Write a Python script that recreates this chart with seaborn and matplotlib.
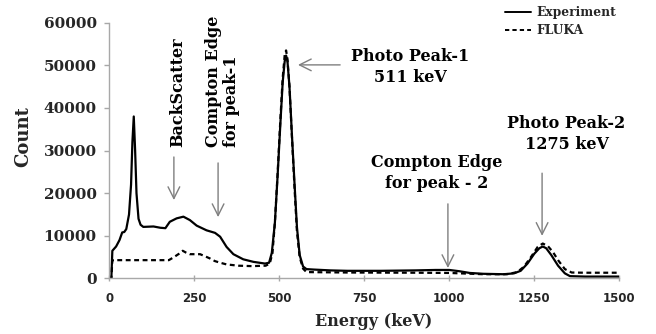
import numpy as np
import pandas as pd
import matplotlib
matplotlib.use("Agg")
import matplotlib.pyplot as plt
import seaborn as sns

# Measured gamma spectrum (energy in keV, counts)
exp_energy = [0, 6, 9, 20, 30, 38, 44, 50, 58, 64, 68, 72, 76, 80, 86, 92, 100,
              130, 150, 165, 178, 198, 218, 237, 257, 286, 311, 326, 345, 365,
              394, 424, 458, 470, 478, 487, 495, 503, 510, 516, 520, 524, 530,
              537, 545, 552, 560, 570, 580, 600, 650, 700, 800, 900, 960, 1000,
              1030, 1060, 1100, 1160, 1190, 1210, 1230, 1250, 1265, 1275, 1285,
              1300, 1320, 1340, 1355, 1400, 1500]
exp_count = [0, 0, 6500, 7500, 9000, 10800, 10900, 11600, 15000, 22000, 32000,
             38000, 30000, 20000, 14000, 12600, 12100,
             12200, 11900, 11800, 13300, 14100, 14500, 13700, 12400, 11300,
             10700, 9800, 7400, 5700,
             4500, 3900, 3500, 3700, 6000, 13000, 24000, 36000, 46000, 51000,
             52300, 51000, 45000,
             34000, 22000, 12000, 5500, 2800, 2200, 2100, 1900, 1800, 1800,
             1900, 2000, 2000,
             1700, 1300, 1100, 1000, 1200, 1800, 3500, 5800, 7100, 7500, 7100,
             5500, 3000, 1200, 550, 450, 450]

# FLUKA simulated spectrum
fluka_energy = [0, 6, 9, 100, 175, 190, 205, 216, 225, 237, 267, 282, 296, 310,
                326, 345, 380, 420, 460, 472, 480, 487, 495, 503, 510, 516, 520,
                524, 530, 537, 545, 552, 560, 570, 580, 700, 900, 1000, 1100,
                1170, 1200, 1220, 1240, 1260, 1275, 1290, 1305, 1320, 1340, 1360,
                1400, 1500]
fluka_count = [0, 0, 4300, 4300, 4300, 5000, 5800, 6500, 6100, 5700, 5700, 5200,
               4700, 4100,
               3700, 3300, 3000, 2900, 3000, 3500, 6000, 13000, 24500, 37000,
               47000, 52500, 53500,
               51500, 45000, 33500, 21000, 11000, 5000, 2300, 1500, 1400, 1350,
               1300, 1000,
               1000, 1500, 2800, 5000, 7400, 8200, 7600, 6200, 4300, 2200, 1400,
               1350, 1350]

series_names = ["Experiment", "FLUKA"]

df = pd.concat([
    pd.DataFrame({"Energy": exp_energy, "Count": exp_count, "Source": series_names[0]}),
    pd.DataFrame({"Energy": fluka_energy, "Count": fluka_count, "Source": series_names[1]}),
], ignore_index=True)

sns.set_theme(style="white")
plt.rcParams["font.family"] = ["DejaVu Serif"]
plt.rcParams["font.weight"] = "bold"

fig = plt.figure(figsize=(6.56, 3.34), dpi=100)
ax = fig.add_axes([0.1666, 0.1662, 0.7774, 0.7659])

sns.lineplot(data=df, x="Energy", y="Count", style="Source",
             dashes={"Experiment": "", "FLUKA": (2.2, 1.6)},
             color="black", linewidth=1.6, estimator=None, sort=False,
             ax=ax, legend=True)

ax.set_xlim(0, 1500)
ax.set_ylim(0, 60000)
ax.set_xticks([0, 250, 500, 750, 1000, 1250, 1500])
ax.set_yticks([0, 10000, 20000, 30000, 40000, 50000, 60000])
ax.set_yticklabels(["0", "10000", "20000", "30000", "40000", "50000", "60000"],
                   fontsize=11, fontweight="bold", family="DejaVu Serif")
ax.set_xticklabels(["0", "250", "500", "750", "1000", "1250", "1500"],
                   fontsize=8.5, fontweight="bold", family="DejaVu Sans")

grey = "#a8a8a8"
for side in ["top", "right"]:
    ax.spines[side].set_visible(False)
for side in ["left", "bottom"]:
    ax.spines[side].set_color(grey)
    ax.spines[side].set_linewidth(1.0)
ax.tick_params(axis="y", direction="out", length=3.6, width=1, color=grey,
               pad=5.5, left=True)
ax.tick_params(axis="x", direction="inout", length=4, width=1, color=grey,
               pad=8, bottom=True)

ax.set_ylabel("Count", fontsize=13, fontweight="bold")
ax.yaxis.set_label_coords(-0.152, 0.553)
ax.set_xlabel("Energy (keV)", fontsize=11.5, fontweight="bold")
ax.xaxis.set_label_coords(0.519, -0.135)

leg = ax.legend(loc="upper left", bbox_to_anchor=(505 / 656, 1 - 6 / 334),
                bbox_transform=fig.transFigure, frameon=False,
                borderpad=0, borderaxespad=0, handlelength=2.1,
                handletextpad=0.5, labelspacing=0.45,
                prop={"family": "DejaVu Serif", "weight": "bold", "size": 8.8})
for line in leg.get_lines():
    line.set_linewidth(1.4)

arrow_kw = dict(arrowstyle="->,head_length=0.7,head_width=0.35",
                color="#7f7f7f", lw=1.0, shrinkA=0, shrinkB=0)
txt_kw = dict(fontsize=11.5, fontweight="bold", color="black")

# Backscatter
ax.text(200, 30800, "BackScatter", rotation=90, ha="center", va="bottom", **txt_kw)
ax.annotate("", xy=(190, 18400), xytext=(190, 28500), arrowprops=arrow_kw)

# Compton edge of the 511 keV line
ax.text(333, 30800, "Compton Edge\nfor peak-1", rotation=90, ha="center",
        va="bottom", multialignment="left", linespacing=1.15, **txt_kw)
ax.annotate("", xy=(320, 14400), xytext=(320, 27100), arrowprops=arrow_kw)

# 511 keV photopeak
ax.text(885, 49600, "Photo Peak-1\n511 keV", ha="center", va="center",
        multialignment="center", linespacing=1.3, **txt_kw)
ax.annotate("", xy=(555, 50100), xytext=(679, 50100), arrowprops=arrow_kw)

# Compton edge of the 1275 keV line
ax.text(964, 24700, "Compton Edge\nfor peak - 2", ha="center", va="center",
        multialignment="center", linespacing=1.3, **txt_kw)
ax.annotate("", xy=(996, 2460), xytext=(996, 17500), arrowprops=arrow_kw)

# 1275 keV photopeak
ax.text(1345, 33900, "Photo Peak-2\n1275 keV", ha="center", va="center",
        multialignment="center", linespacing=1.3, **txt_kw)
ax.annotate("", xy=(1273, 10000), xytext=(1273, 24700), arrowprops=arrow_kw)

fig.savefig("out.png", dpi=100)
